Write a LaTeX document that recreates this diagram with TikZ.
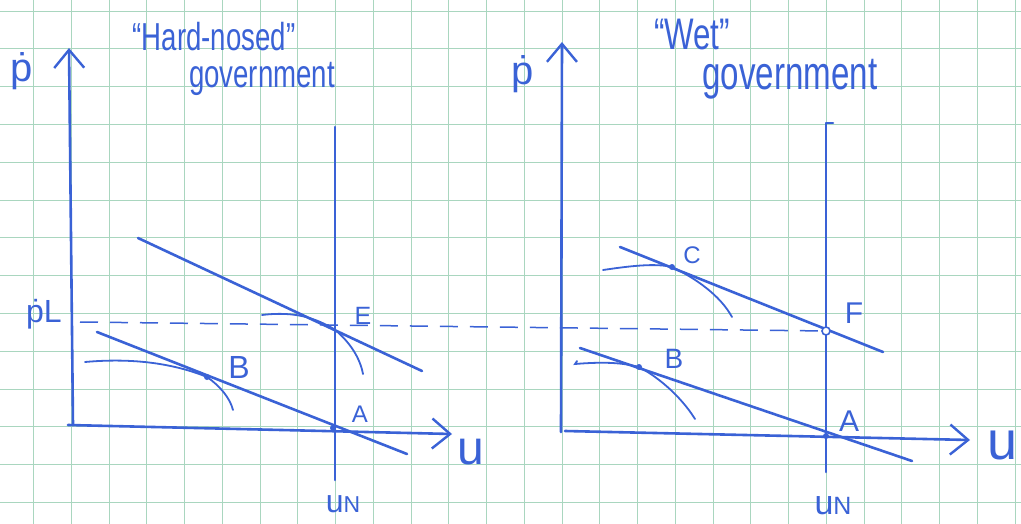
\documentclass[tikz,border=0pt]{standalone}
\usepackage{fontspec}
\setmainfont{Liberation Sans}
\usetikzlibrary{arrows.meta}
\definecolor{ink}{HTML}{3A62D6}
\definecolor{gridgreen}{HTML}{A9D6BF}
\newcommand{\tallbox}[1]{\scalebox{0.92}[1.3]{#1}}
\begin{document}
\begin{tikzpicture}[x=1pt,y=-1pt,
  inkline/.style={draw=ink,line width=2.6pt,line cap=round,line join=round},
  thinink/.style={draw=ink,line width=1.8pt,line cap=round},
  axisarrow/.style={inkline,-{Straight Barb[length=18pt,width=30pt,line width=2.4pt]}},
  lab/.style={text=ink,inner sep=0pt},
  ptdot/.style={circle,fill=ink,inner sep=0pt,minimum size=6pt},
  ptring/.style={circle,draw=ink,line width=1.6pt,fill=white,inner sep=0pt,minimum size=8pt},
  gridline/.style={draw=gridgreen,line width=0.9pt},
  dashline/.style={draw=ink,line width=1.5pt,dash pattern=on 18pt off 12pt},
]
\useasboundingbox (0,0) rectangle (1021,524);
\fill[white] (0,0) rectangle (1021,524);
% graph paper
\foreach \k in {0,...,26} {\draw[gridline] (33.5+37.75*\k,0) -- (33.5+37.75*\k,524);}
\foreach \k in {0,...,13} {\draw[gridline] (0,11+37.8*\k) -- (1021,11+37.8*\k);}

% ---------- left panel ----------
\coordinate (L0) at (73,425);
\coordinate (LYtop) at (69,48);
\coordinate (LXstart) at (68,425);
\coordinate (LXend) at (452,434);
\coordinate (LNtop) at (335,127);
\coordinate (LNbot) at (335,480);
\coordinate (LU1a) at (138,238);
\coordinate (LU1b) at (422,371);
\coordinate (LU0a) at (97,332);
\coordinate (LU0b) at (407,454);
\coordinate (DashL) at (80,322);
\coordinate (DashR) at (826,331);

\draw[axisarrow] (L0) -- (LYtop);
\draw[axisarrow] (LXstart) -- (LXend);
\draw[inkline] (LNtop) -- (LNbot);
\draw[inkline] (LU1a) -- (LU1b);
\draw[inkline] (LU0a) -- (LU0b);
\draw[dashline] (DashL) -- (DashR);

\coordinate (LB) at (207,377);
\coordinate (LE) at (334,329);
\coordinate (LA) at (333,428);
\draw[thinink] (85,362) .. controls (140,357) and (180,366) .. (LB) .. controls (220,386) and (230,398) .. (233,410);
\draw[thinink] (262,315) .. controls (295,311) and (315,318) .. (LE) .. controls (350,342) and (360,358) .. (363,374);
\node[ptdot] (dotLB) at (LB) {};
\node[ptdot] (dotLA) at (LA) {};

\node[lab,font=\fontsize{30}{30}\selectfont] (t1a) at (214,37) {\tallbox{“Hard-nosed”}};
\node[lab,font=\fontsize{30}{30}\selectfont] (t1b) at (262,79) {\tallbox{government}};
\node[lab,font=\fontsize{40}{40}\selectfont] (lpdot) at (22,71) {\.{p}};
\node[lab,font=\fontsize{32}{32}\selectfont] (lpL) at (44,314) {\.{p}L};
\node[lab,font=\fontsize{32}{32}\selectfont] (lB) at (239,367) {B};
\node[lab,font=\fontsize{25}{25}\selectfont] (lE) at (363,316) {E};
\node[lab,font=\fontsize{24}{24}\selectfont] (lA) at (360,414) {A};
\node[lab,font=\fontsize{48}{48}\selectfont] (lu) at (471,452) {u};
\node[lab,font=\fontsize{32}{32}\selectfont] (luN) at (343,504) {u{\fontsize{23}{23}\selectfont N}};

% ---------- right panel ----------
\coordinate (R0) at (561,432);
\coordinate (RYtop) at (562,42);
\coordinate (RXstart) at (565,431);
\coordinate (RXend) at (970,440);
\coordinate (RNtop) at (826,123);
\coordinate (RNhook) at (833,123);
\coordinate (RNbot) at (826,472);
\coordinate (RU1a) at (620,247);
\coordinate (RU1b) at (883,352);
\coordinate (RU0a) at (580,348);
\coordinate (RU0b) at (912,461);

\draw[axisarrow] (R0) -- (RYtop);
\draw[axisarrow] (RXstart) -- (RXend);
\draw[inkline] (RNhook) -- (RNtop) -- (RNbot);
\draw[inkline] (RU1a) -- (RU1b);
\draw[inkline] (RU0a) -- (RU0b);

\coordinate (RC) at (672,267);
\coordinate (RB) at (639,367);
\coordinate (RF) at (826,331);
\coordinate (RA) at (826,436);
\draw[thinink] (603,270) .. controls (630,266) and (655,263) .. (RC) .. controls (695,278) and (720,295) .. (732,317);
\draw[thinink] (577,361) -- (575,364) .. controls (600,362) and (620,362) .. (RB) .. controls (660,378) and (682,398) .. (695,419);
\node[ptdot] (dotRC) at (RC) {};
\node[ptdot] (dotRB) at (RB) {};
\node[ptdot] (dotRA) at (RA) {};
\node[ptring] (ringRF) at (RF) {};

\node[lab,font=\fontsize{34}{34}\selectfont] (t2a) at (692,35) {\tallbox{“Wet”}};
\node[lab,font=\fontsize{36}{36}\selectfont] (t2b) at (790,79) {\tallbox{government}};
\node[lab,font=\fontsize{40}{40}\selectfont] (rpdot) at (523,74) {\.{p}};
\node[lab,font=\fontsize{24}{24}\selectfont] (rC) at (692,255) {C};
\node[lab,font=\fontsize{30}{30}\selectfont] (rF) at (854,313) {F};
\node[lab,font=\fontsize{28}{28}\selectfont] (rB) at (674,359) {B};
\node[lab,font=\fontsize{30}{30}\selectfont] (rA) at (849,421) {A};
\node[lab,font=\fontsize{54}{54}\selectfont] (ru) at (1003,445) {u};
\node[lab,font=\fontsize{34}{34}\selectfont] (ruN) at (833,506) {u{\fontsize{25}{25}\selectfont N}};
\end{tikzpicture}
\end{document}
